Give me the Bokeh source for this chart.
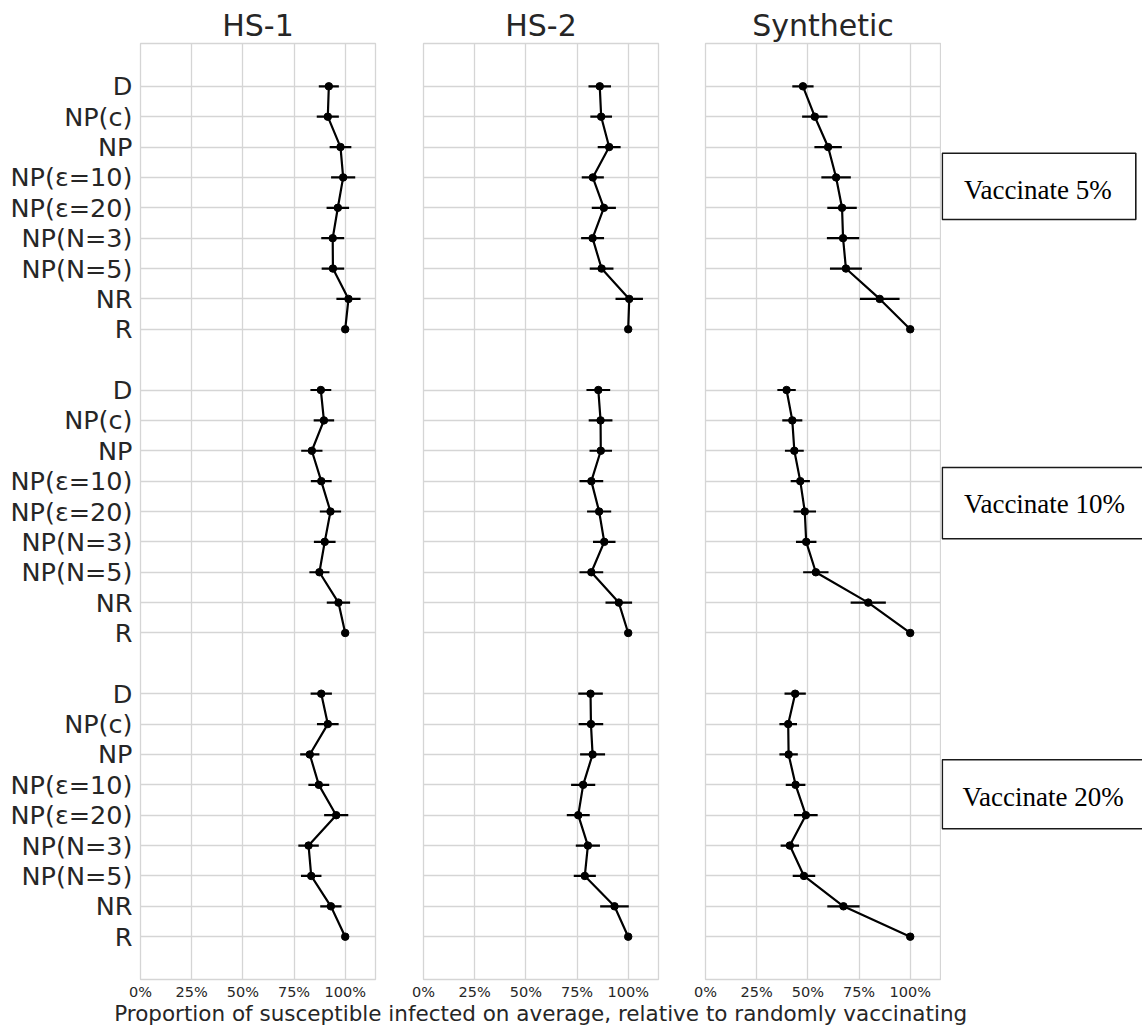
from bokeh.plotting import figure
from bokeh.layouts import row, column
from bokeh.models import Range1d, FixedTicker, NumeralTickFormatter
from bokeh.embed import file_html
from bokeh.resources import INLINE
from bokeh.core.properties import value

# ---------------- data ----------------
panels = ["HS-1", "HS-2", "Synthetic"]
scenarios = ["Vaccinate 5%", "Vaccinate 10%", "Vaccinate 20%"]
methods = ["D", "NP(c)", "NP", "NP(ε=10)", "NP(ε=20)", "NP(N=3)", "NP(N=5)", "NR", "R"]
x_ticks = [0, 0.25, 0.5, 0.75, 1.0]
x_label = "Proportion of susceptible infected on average, relative to randomly vaccinating"

# mean proportion (relative to random vaccination) per scenario, per method
hs1_mean_5 = [0.920, 0.915, 0.977, 0.990, 0.964, 0.939, 0.940, 1.016, 1.0]
hs1_err_5 = [0.049, 0.054, 0.053, 0.059, 0.055, 0.056, 0.055, 0.059, 0.0]
hs1_mean_10 = [0.881, 0.896, 0.837, 0.883, 0.928, 0.900, 0.874, 0.967, 1.0]
hs1_err_10 = [0.051, 0.050, 0.052, 0.051, 0.052, 0.053, 0.049, 0.057, 0.0]
hs1_mean_20 = [0.883, 0.915, 0.827, 0.871, 0.956, 0.821, 0.834, 0.930, 1.0]
hs1_err_20 = [0.052, 0.053, 0.047, 0.051, 0.059, 0.050, 0.050, 0.052, 0.0]

hs2_mean_5 = [0.861, 0.868, 0.907, 0.827, 0.881, 0.826, 0.870, 1.005, 1.0]
hs2_err_5 = [0.055, 0.053, 0.056, 0.054, 0.059, 0.056, 0.058, 0.067, 0.0]
hs2_mean_10 = [0.854, 0.865, 0.866, 0.820, 0.858, 0.883, 0.820, 0.954, 1.0]
hs2_err_10 = [0.058, 0.058, 0.055, 0.058, 0.059, 0.055, 0.058, 0.065, 0.0]
hs2_mean_20 = [0.816, 0.818, 0.826, 0.780, 0.756, 0.803, 0.788, 0.933, 1.0]
hs2_err_20 = [0.060, 0.060, 0.061, 0.059, 0.056, 0.059, 0.054, 0.070, 0.0]

syn_mean_5 = [0.476, 0.534, 0.599, 0.638, 0.667, 0.672, 0.686, 0.851, 1.0]
syn_err_5 = [0.052, 0.062, 0.067, 0.072, 0.072, 0.079, 0.078, 0.097, 0.0]
syn_mean_10 = [0.396, 0.424, 0.434, 0.463, 0.485, 0.492, 0.539, 0.795, 1.0]
syn_err_10 = [0.045, 0.049, 0.046, 0.047, 0.055, 0.050, 0.062, 0.086, 0.0]
syn_mean_20 = [0.438, 0.404, 0.406, 0.440, 0.490, 0.412, 0.481, 0.674, 1.0]
syn_err_20 = [0.052, 0.043, 0.045, 0.048, 0.058, 0.045, 0.055, 0.079, 0.0]

panel_data = {
    "HS-1": ([hs1_mean_5, hs1_mean_10, hs1_mean_20], [hs1_err_5, hs1_err_10, hs1_err_20]),
    "HS-2": ([hs2_mean_5, hs2_mean_10, hs2_mean_20], [hs2_err_5, hs2_err_10, hs2_err_20]),
    "Synthetic": ([syn_mean_5, syn_mean_10, syn_mean_20], [syn_err_5, syn_err_10, syn_err_20]),
}

# ---------------- layout / style ----------------
FONT = "DejaVu Sans"
TXT = "#262626"
GRID = "#d5d5d5"
GROUP_STEP = 10          # rows between scenario blocks (one blank row)
FRAME_W = 235
PANEL_H = 1002
TOP = 43
BOTTOM = 23

row_pos = [g * GROUP_STEP + i for g in range(len(scenarios)) for i in range(len(methods))]
row_labels = {g * GROUP_STEP + i: m for g in range(len(scenarios)) for i, m in enumerate(methods)}


def make_panel(name, left, right, show_y):
    p = figure(output_backend="svg", toolbar_location=None,
               width=left + FRAME_W + right, height=PANEL_H,
               min_border_left=left, min_border_right=right,
               min_border_top=TOP, min_border_bottom=BOTTOM,
               x_range=Range1d(0, 1.148), y_range=Range1d(29.41, -1.41),
               y_axis_location="left" if show_y else None,
               title=name)
    p.background_fill_color = "white"
    p.border_fill_color = "white"
    p.outline_line_color = GRID
    p.outline_line_width = 1.3

    p.title.align = "center"
    p.title.text_font = FONT
    p.title.text_font_size = "30px"
    p.title.text_font_style = "normal"
    p.title.text_color = TXT
    p.title.standoff = 2

    p.xaxis.ticker = FixedTicker(ticks=x_ticks)
    p.xaxis.formatter = NumeralTickFormatter(format="0%")
    p.xaxis.axis_line_color = None
    p.xaxis.major_tick_line_color = None
    p.xaxis.minor_tick_line_color = None
    p.xaxis.major_tick_out = 0
    p.xaxis.major_label_standoff = 4
    p.xaxis.major_label_text_font = FONT
    p.xaxis.major_label_text_font_size = "14.5px"
    p.xaxis.major_label_text_color = TXT

    p.xgrid.ticker = FixedTicker(ticks=x_ticks)
    p.ygrid.ticker = FixedTicker(ticks=row_pos)
    p.xgrid.grid_line_color = GRID
    p.ygrid.grid_line_color = GRID
    p.xgrid.grid_line_width = 1.3
    p.ygrid.grid_line_width = 1.3

    if show_y:
        p.yaxis.ticker = FixedTicker(ticks=row_pos)
        p.yaxis.major_label_overrides = row_labels
        p.yaxis.axis_line_color = None
        p.yaxis.major_tick_line_color = None
        p.yaxis.minor_tick_line_color = None
        p.yaxis.major_tick_out = 0
        p.yaxis.major_label_standoff = 8
        p.yaxis.major_label_text_font = FONT
        p.yaxis.major_label_text_font_size = "25.5px"
        p.yaxis.major_label_text_color = TXT

    means, errs = panel_data[name]
    for g in range(len(scenarios)):
        ys = [g * GROUP_STEP + i for i in range(len(methods))]
        m = means[g]
        e = errs[g]
        lo = [a - b for a, b in zip(m, e)]
        hi = [a + b for a, b in zip(m, e)]
        p.segment(x0=lo, x1=hi, y0=ys, y1=ys, line_color="black", line_width=2.2)
        p.line(x=m, y=ys, line_color="black", line_width=2.2)
        p.scatter(x=m, y=ys, size=7.5, fill_color="black", line_color="black")
    return p


p1 = make_panel("HS-1", 140, 24, True)
p2 = make_panel("HS-2", 24, 24, False)
p3 = make_panel("Synthetic", 23, 1, False)

# scenario boxes on the right (page-pixel coordinates; frame spans page y 43..979)
p4 = figure(output_backend="svg", toolbar_location=None, width=201, height=PANEL_H,
            title=None, min_border_left=0, min_border_right=0,
            min_border_top=TOP, min_border_bottom=BOTTOM,
            x_range=Range1d(941, 1142), y_range=Range1d(PANEL_H - BOTTOM, TOP),
            x_axis_location=None, y_axis_location=None)
p4.outline_line_color = None
p4.xgrid.visible = False
p4.ygrid.visible = False
box_left = [941.8, 941.8, 941.8]
box_right = [1135.3, 1150, 1150]
box_top = [152.7, 467, 759.3]
box_bottom = [219, 538.3, 828.3]
p4.quad(left=box_left, right=box_right, top=box_top, bottom=box_bottom,
        fill_color="white", line_color="#1a1a1a", line_width=1.6)
p4.text(x=[1037.3, 1044, 1042.7], y=[189.5, 503.8, 796.2], text=scenarios,
        text_align="center", text_baseline="alphabetic",
        text_font=value("Liberation Serif"), text_font_size="27px", text_color="black")

# shared x-axis label
p5 = figure(output_backend="svg", toolbar_location=None, width=1142, height=1027 - PANEL_H,
            title=None, min_border=0, x_range=Range1d(0, 1142), y_range=Range1d(1027, PANEL_H),
            x_axis_location=None, y_axis_location=None)
p5.outline_line_color = None
p5.xgrid.visible = False
p5.ygrid.visible = False
p5.text(x=[540.2], y=[1012.5], text=[x_label], text_align="center", text_baseline="alphabetic",
        text_font=value(FONT), text_font_size="21.5px", text_color=TXT)

layout = column(row(p1, p2, p3, p4, spacing=0), p5, spacing=0)

open("out.html", "w").write(file_html(layout, INLINE))
